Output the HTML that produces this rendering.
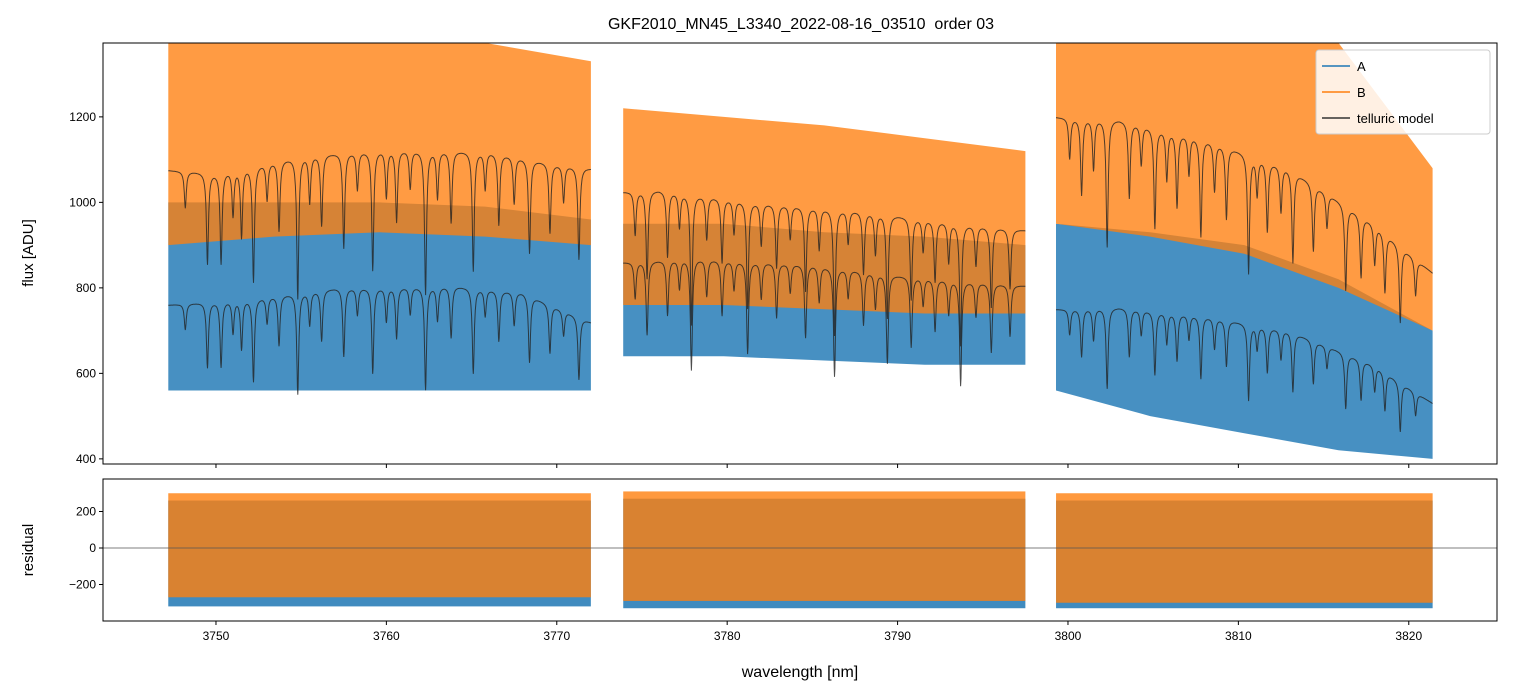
<!DOCTYPE html>
<html><head><meta charset="utf-8">
<style>
body{margin:0;background:#fff;}
svg{display:block;font-family:"Liberation Sans","DejaVu Sans",sans-serif;}
</style></head>
<body>
<svg id="chart" width="1513" height="696" viewBox="0 0 1513 696">
<rect width="1513" height="696" fill="#fff"/>
<text x="801" y="29" text-anchor="middle" font-size="16" fill="#000">GKF2010_MN45_L3340_2022-08-16_03510&#160; order 03</text>
<defs>
<clipPath id="cMain"><rect x="103" y="43" width="1394" height="421"/></clipPath>
<clipPath id="cRes"><rect x="103" y="479" width="1394" height="142"/></clipPath>
</defs>
<g id="mainMarks" clip-path="url(#cMain)"></g>
<g id="resMarks" clip-path="url(#cRes)"></g>
<rect x="103" y="43" width="1394" height="421" fill="none" stroke="#000" stroke-width="1"/>
<rect x="103" y="479" width="1394" height="142" fill="none" stroke="#000" stroke-width="1"/>
<g id="axes"></g>
<text transform="translate(33,253) rotate(-90)" text-anchor="middle" font-size="15">flux [ADU]</text>
<text transform="translate(33,550) rotate(-90)" text-anchor="middle" font-size="15">residual</text>
<text x="800" y="677" text-anchor="middle" font-size="16">wavelength [nm]</text>
<g>
<rect x="1316" y="50" width="174" height="84" rx="3" fill="#fff" fill-opacity="0.85" stroke="#ccc"/>
<line x1="1322" y1="66" x2="1350" y2="66" stroke="#1f77b4" stroke-width="1.5"/>
<text x="1357" y="71" font-size="13">A</text>
<line x1="1322" y1="92" x2="1350" y2="92" stroke="#ff7f0e" stroke-width="1.5"/>
<text x="1357" y="97" font-size="13">B</text>
<line x1="1322" y1="118" x2="1350" y2="118" stroke="#333" stroke-width="1.5"/>
<text x="1357" y="123" font-size="13">telluric model</text>
</g>
</svg>
<script>
// ---- data ----
const segStart = [3747.2, 3773.9, 3799.3];
const segEnd   = [3772.0, 3797.5, 3821.4];
// band envelopes at fractions 0, .25, .5, .75, 1 of each segment
const aUpper = [[1000,1000,1000,990,960],[950,950,930,920,900],[950,930,900,820,700]];
const aLower = [[560,560,560,560,560],[640,640,630,620,620],[560,500,460,420,400]];
const bUpper = [[1373,1373,1373,1373,1330],[1220,1200,1180,1150,1120],[1373,1373,1373,1373,1080]];
const bLower = [[900,920,930,920,900],[760,760,750,740,740],[950,920,880,800,700]];
const rAUpper = [260,270,260];
const rALower = [-320,-330,-330];
const rBUpper = [300,310,300];
const rBLower = [-270,-290,-300];
// telluric continuum knots
const contAx = [[3747.2,3752,3757,3764,3768,3772],[3773.9,3778,3785,3790,3797.5],[3799.3,3803,3808,3813,3818,3821.4]];
const contAy = [[760,775,800,805,790,720],[860,870,855,830,805],[750,755,735,700,620,530]];
const contBx = [[3747.2,3750,3755,3760,3766,3770,3772],[3773.9,3776,3782,3788,3794,3797.5],[3799.3,3803,3808,3813,3818,3821.4]];
const contBy = [[1075,1070,1110,1125,1120,1090,1080],[1025,1030,1000,980,950,935],[1200,1195,1150,1080,950,835]];
const linePos = [3748.2,3749.5,3750.3,3751.0,3751.5,3752.2,3753.0,3753.7,3754.8,3755.5,3756.2,3757.5,3758.3,3759.2,3760.0,3760.6,3761.4,3762.3,3763.0,3763.8,3765.1,3765.8,3766.6,3767.5,3768.4,3769.6,3770.4,3771.3,
 3774.6,3775.3,3776.5,3777.2,3777.9,3778.8,3779.7,3780.4,3781.2,3782.0,3782.9,3783.7,3784.6,3785.4,3786.3,3787.1,3788.0,3788.7,3789.4,3790.8,3791.5,3792.2,3793.0,3793.7,3794.6,3795.5,3796.6,
 3800.1,3800.8,3801.5,3802.3,3803.6,3804.3,3805.1,3805.8,3806.4,3807.1,3807.8,3808.6,3809.3,3810.6,3811.1,3811.7,3812.5,3813.2,3814.4,3815.2,3816.3,3817.2,3818.0,3818.6,3819.5,3820.4];
const lineDepth = [0.08,0.2,0.2,0.1,0.15,0.25,0.08,0.15,0.3,0.1,0.15,0.2,0.08,0.25,0.1,0.15,0.08,0.3,0.1,0.15,0.25,0.08,0.15,0.1,0.2,0.15,0.08,0.2,
 0.1,0.2,0.15,0.08,0.3,0.1,0.15,0.08,0.25,0.1,0.15,0.08,0.2,0.1,0.3,0.08,0.15,0.1,0.25,0.2,0.08,0.15,0.1,0.3,0.1,0.2,0.15,
 0.08,0.15,0.1,0.25,0.15,0.08,0.2,0.1,0.15,0.08,0.2,0.1,0.15,0.25,0.08,0.15,0.1,0.2,0.15,0.08,0.2,0.15,0.1,0.15,0.2,0.1];
const xTicks = [3750,3760,3770,3780,3790,3800,3810,3820];
const yTicksMain = [400,600,800,1000,1200];
const yTicksRes = [-200,0,200];

// ---- axes ----
const X = w => 103 + (w - 3743.37) * 17.04;
const Y = v => 464 - (v - 388) * 0.4275;
const YR = v => 621 - (v + 400) * 0.1825;
const NS = 'http://www.w3.org/2000/svg';
function mk(tag, attrs, parent){const e=document.createElementNS(NS,tag);for(const k in attrs)e.setAttribute(k,attrs[k]);parent.appendChild(e);return e;}
const main = document.getElementById('mainMarks'), res = document.getElementById('resMarks'), axes = document.getElementById('axes');

function interp(xs, ys, w){ if(w<=xs[0])return ys[0]; for(let i=1;i<xs.length;i++){ if(w<=xs[i]){const t=(w-xs[i-1])/(xs[i]-xs[i-1]);return ys[i-1]+t*(ys[i]-ys[i-1]);} } return ys[ys.length-1]; }
function bandPath(s, up, lo, yf){
  const fr=[0,.25,.5,.75,1], L=segEnd[s]-segStart[s];
  let pts=fr.map((f,i)=>X(segStart[s]+f*L).toFixed(1)+','+yf(up[i]).toFixed(1));
  pts=pts.concat(fr.slice().reverse().map((f,j)=>{const i=4-j;return X(segStart[s]+f*L).toFixed(1)+','+yf(lo[i]).toFixed(1);}));
  return 'M'+pts.join('L')+'Z';
}
for(let s=0;s<3;s++){
  const pa=mk('path',{d:bandPath(s,aUpper[s],aLower[s],Y),fill:'#1f77b4','fill-opacity':0.82},main);
  
  
}
for(let s=0;s<3;s++){
  const pb=mk('path',{d:bandPath(s,bUpper[s],bLower[s],Y),fill:'#ff7f0e','fill-opacity':0.78},main);
  
  
}
function model(s, cx, cy){
  let d='';
  for(let w=segStart[s]; w<=segEnd[s]; w+=0.02){
    let absn=0;
    for(let i=0;i<linePos.length;i++){const dx=(w-linePos[i])/0.07; absn+=lineDepth[i]/(1+dx*dx);}
    const v=interp(cx[s],cy[s],w)*Math.max(0,1-absn);
    d+=(d?'L':'M')+X(w).toFixed(1)+','+Y(v).toFixed(1);
  }
  return d;
}
for(let s=0;s<3;s++){
  const ma=mk('path',{d:model(s,contAx,contAy),fill:'none',stroke:'#222','stroke-opacity':0.8,'stroke-width':1},main);
  
  
  const mb=mk('path',{d:model(s,contBx,contBy),fill:'none',stroke:'#222','stroke-opacity':0.8,'stroke-width':1},main);
  
  
}
for(let s=0;s<3;s++){
  const x0=X(segStart[s]), x1=X(segEnd[s]);
  const ra=mk('rect',{x:x0,y:YR(rAUpper[s]),width:x1-x0,height:YR(rALower[s])-YR(rAUpper[s]),fill:'#1f77b4','fill-opacity':0.85},res);
  
  
  const rb=mk('rect',{x:x0,y:YR(rBUpper[s]),width:x1-x0,height:YR(rBLower[s])-YR(rBUpper[s]),fill:'#ff7f0e','fill-opacity':0.8},res);
  
  
}
const zl=mk('line',{x1:103,x2:1497,y1:YR(0),y2:YR(0),stroke:'#555','stroke-width':0.7},res);



xTicks.forEach(t=>{
  mk('line',{x1:X(t),x2:X(t),y1:464,y2:468,stroke:'#000'},axes);
  mk('line',{x1:X(t),x2:X(t),y1:621,y2:625,stroke:'#000'},axes);
  const tx=mk('text',{x:X(t),y:640,'text-anchor':'middle','font-size':12},axes);
  tx.textContent=t;
  
  
});
yTicksMain.forEach(t=>{
  mk('line',{x1:99,x2:103,y1:Y(t),y2:Y(t),stroke:'#000'},axes);
  const tx=mk('text',{x:96,y:Y(t)+4,'text-anchor':'end','font-size':12},axes);
  tx.textContent=t;
  
  
});
yTicksRes.forEach(t=>{
  mk('line',{x1:99,x2:103,y1:YR(t),y2:YR(t),stroke:'#000'},axes);
  const tx=mk('text',{x:96,y:YR(t)+4,'text-anchor':'end','font-size':12},axes);
  tx.textContent=(t<0?'\u2212'+(-t):t);
  
  
});
</script>
</body></html>
